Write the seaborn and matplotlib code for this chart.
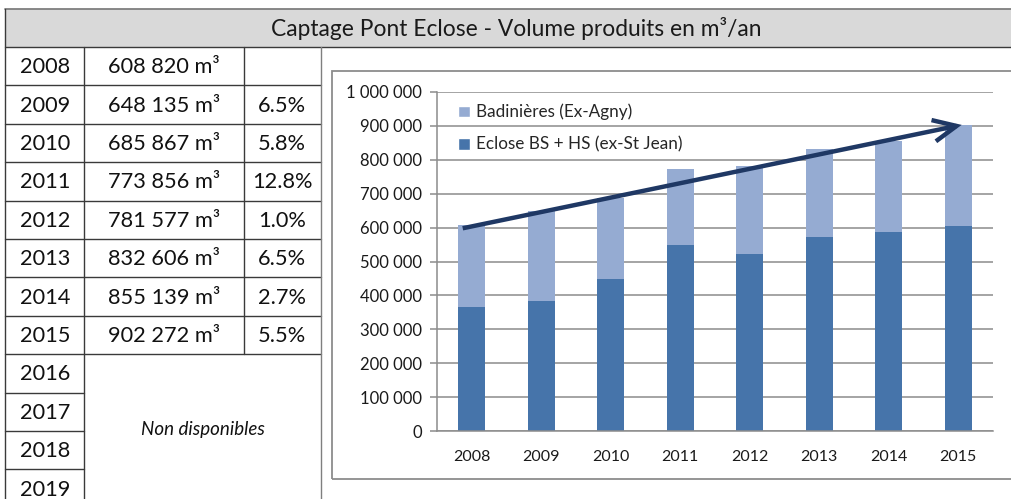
import numpy as np
import pandas as pd
import matplotlib
matplotlib.use("Agg")
import matplotlib.pyplot as plt
from matplotlib.patches import Rectangle, Patch
from matplotlib.lines import Line2D
import seaborn as sns

years = [2008, 2009, 2010, 2011, 2012, 2013, 2014, 2015]
totals = [608820, 648135, 685867, 773856, 781577, 832606, 855139, 902272]
eclose = [365000, 383000, 449000, 548000, 523000, 571000, 586000, 605000]
growth = ["", "6.5%", "5.8%", "12.8%", "1.0%", "6.5%", "2.7%", "5.5%"]
missing_years = [2016, 2017, 2018, 2019]
y_ticks = [0, 100000, 200000, 300000, 400000, 500000, 600000, 700000, 800000, 900000, 1000000]
trend_start = (2008, 598000)
trend_end = (2015, 903000)

sns.set_theme(style="white")
plt.rcParams["font.family"] = ["Lato", "DejaVu Sans"]

W, H = 1011, 499
fig = plt.figure(figsize=(W / 100, H / 100), dpi=100)
fig.patch.set_facecolor("white")

def fx(x):
    return x / W

def fy(y):
    return 1 - y / H

def hline(x0, x1, y, c="#3a3a3a", lw=1.0):
    fig.add_artist(Line2D([fx(x0), fx(x1)], [fy(y), fy(y)], color=c, lw=lw))

def vline(x, y0, y1, c="#3a3a3a", lw=1.0):
    fig.add_artist(Line2D([fx(x), fx(x)], [fy(y0), fy(y1)], color=c, lw=lw))

# ---- table ----
fig.add_artist(Rectangle((fx(5), fy(47)), fx(W) - fx(5), fy(9) - fy(47),
                         facecolor="#d9d9d9", edgecolor="none"))
hline(5, W, 9, c="#7f7f7f", lw=1.3)
fig.text(fx(516), fy(28), "Captage Pont Eclose - Volume produits en m³/an",
         ha="center", va="center", fontsize=16.4, color="#1a1a1a")

row0, row_h = 47, 38.4
n_rows = len(years) + len(missing_years)
hline(5, W, row0)
for i in range(1, n_rows + 1):
    yy = row0 + i * row_h
    if i <= len(years):
        hline(5, 321, yy)
    else:
        hline(5, 84, yy)
vline(5, 9, H)
vline(84, row0, H)
vline(244, row0, row0 + len(years) * row_h)
vline(321, row0, H, c="#7f7f7f")

for i, yr in enumerate(years + missing_years):
    cy = row0 + (i + 0.5) * row_h + 1
    fig.text(fx(45), fy(cy), str(yr), ha="center", va="center", fontsize=15.7, color="#111111")
for i, v in enumerate(totals):
    cy = row0 + (i + 0.5) * row_h + 1
    fig.text(fx(164), fy(cy), f"{v:,.0f}".replace(",", " ") + " m³",
             ha="center", va="center", fontsize=15.7, color="#111111")
    if growth[i]:
        fig.text(fx(282), fy(cy), growth[i], ha="center", va="center", fontsize=15.7, color="#111111")
fig.text(fx(203), fy(430), "Non disponibles", ha="center", va="center",
         fontsize=13.5, style="italic", color="#111111")

# ---- chart frame ----
fig.add_artist(Rectangle((fx(332), fy(479)), fx(W + 5) - fx(332), fy(71) - fy(479),
                         facecolor="none", edgecolor="#8c8c8c", lw=1.3))

ax = fig.add_axes([fx(437), fy(431), fx(993) - fx(437), fy(92) - fy(431)])
light, dark = "#95abd2", "#4674aa"
df = pd.DataFrame({"year": [str(y) for y in years], "total": totals, "eclose": eclose})
sns.barplot(data=df, x="year", y="total", color=light, width=0.39, saturation=1,
            linewidth=0, ax=ax)
sns.barplot(data=df, x="year", y="eclose", color=dark, width=0.39, saturation=1,
            linewidth=0, ax=ax)

ax.set_xlim(-0.5, len(years) - 0.5)
ax.set_ylim(0, 1000000)
ax.set_yticks(y_ticks)
ax.set_yticklabels([f"{v:,.0f}".replace(",", " ") for v in y_ticks])
ax.yaxis.grid(True, color="#8c8c8c", lw=1.1)
ax.set_axisbelow(True)
ax.set_xlabel("")
ax.set_ylabel("")
for s in ["top", "right"]:
    ax.spines[s].set_visible(False)
for s in ["left", "bottom"]:
    ax.spines[s].set_color("#8c8c8c")
    ax.spines[s].set_linewidth(1.1)
ax.set_xticks(np.arange(-0.5, len(years)), minor=True)
ax.tick_params(axis="x", which="major", length=0, pad=14, labelsize=11.5, colors="#1a1a1a")
ax.tick_params(axis="x", which="minor", length=5, width=1.1, color="#8c8c8c", direction="out")
ax.tick_params(axis="y", length=5, width=1.1, color="#8c8c8c", direction="out",
               left=True, pad=6, labelsize=12, labelcolor="#1a1a1a")

# trend arrow
x0 = years.index(trend_start[0]) - 0.13
x1 = years.index(trend_end[0]) + 0.05
ax.annotate("", xy=(x1, trend_end[1]), xytext=(x0, trend_start[1]),
            arrowprops=dict(arrowstyle="->,head_length=1.4,head_width=0.65",
                            color="#1f3864", lw=3.2, shrinkA=0, shrinkB=0,
                            joinstyle="miter", capstyle="butt"))

handles = [Patch(facecolor=light, label="Badinières (Ex-Agny)"),
           Patch(facecolor=dark, label="Eclose BS + HS (ex-St Jean)")]
ax.legend(handles=handles, loc="upper left", bbox_to_anchor=(0.025, 0.985), frameon=False,
          fontsize=12.3, handlelength=0.7, handleheight=0.7, handletextpad=0.35,
          labelspacing=0.95, borderaxespad=0)

fig.savefig("out.png", dpi=100)
